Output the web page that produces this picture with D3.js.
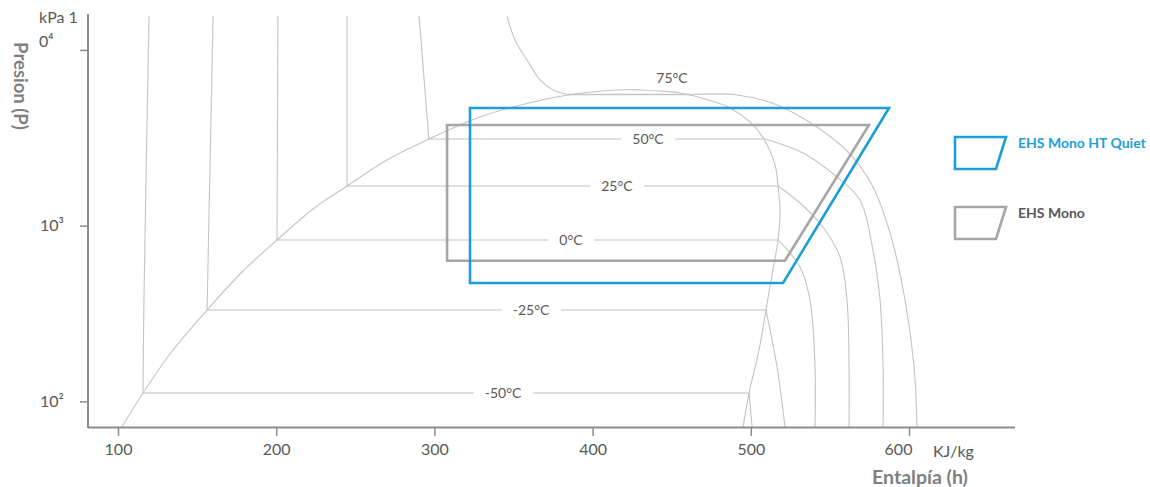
<!DOCTYPE html>
<html><head><meta charset="utf-8">
<script src="https://cdn.jsdelivr.net/npm/d3@7"></script>
<style>
body{margin:0;background:#fff}
svg{display:block}
text{font-family:Lato,"Open Sans",sans-serif}
</style>
</head><body>
<svg id="chart" width="1150" height="487"></svg>
<script>
// ---- data (enthalpy kJ/kg, pressure kPa) ----
const xTicks = [100, 200, 300, 400, 500, 600];
const yTicks = [100, 1000, 10000];
const yTickLabels = ["10²", "10³", ""];

const dome = [[102.5,71.5],[115.8,111.6],[133.8,191],[156.3,331],[178.4,545],[200.5,829],[223.3,1245],[244.8,1683],[270,2365],[296.5,3115],[316.2,3743],[328.8,4157],[349.7,4739],[384.5,5545],[415.4,5921],[430,5921],[442.6,5844],[455.3,5692],[471.1,5261],[486.9,4677],[499.5,3893],[508.3,3115],[515.3,2215],[517.2,1683],[518.5,1197],[517.2,829],[513.4,524],[509.6,331],[505.2,196],[498.9,111.6],[495.1,71.5]];

const isoNames    = ["75°C", "50°C", "25°C", "0°C", "-25°C", "-50°C"];
const isoPressure = [5581, 3115, 1683, 829, 331, 111.6];
const isoLiqH     = [384.5, 296.5, 244.8, 200.5, 156.3, 115.8];
const isoVapH     = [461.6, 509, 517.2, 517.2, 509.6, 498.9];
const isoLabelH   = [450.2, 435, 415.4, 386.3, 361.1, 343.4];
const isoLabelP   = [6928, 3115, 1683, 829, 331, 111.6];

const liq75  = [[345.9,15600],[350.9,11400],[358.5,8772],[366.8,6750],[375,5921],[384.5,5581]];
const liq50  = [[290.3,15600],[296.5,3115]];
const liq25  = [[244.8,15600],[244.8,1683]];
const liq0   = [[201.1,15600],[200.5,829]];
const liqM25 = [[160.1,15600],[156.3,331]];
const liqM50 = [[119.6,15600],[116.4,378],[115.8,111.6]];

const vap75  = [[461.6,5581],[491.3,5545],[516.6,4864],[541.8,3646],[561.4,2627],[576.6,1704],[588,909],[597.5,378],[603.2,157],[605.1,71.5]];
const vap50  = [[509,3115],[533,2593],[554.5,1893],[569,1401],[577.2,727],[581.7,378],[583.6,157],[583.6,71.5]];
const vap25  = [[517.2,1683],[531.1,1346],[545.6,983],[556.4,663],[560.8,378],[562.1,157],[562.1,71.5]];
const vap0   = [[517.2,829],[531.1,582],[537.4,378],[540.6,157],[540.6,71.5]];
const vapM25 = [[509.6,331],[516.6,157],[521.6,71.5]];
const vapM50 = [[498.9,111.6],[500.8,71.5]];

const seriesNames = ["EHS Mono HT Quiet", "EHS Mono"];
const hqCycle   = [[322.5,4677],[587.4,4677],[520.4,472],[322.5,472]];
const monoCycle = [[308,3743],[574.7,3743],[521.6,632],[308,632]];

// ---- drawing ----
const svg = d3.select("#chart");
const x = d3.scaleLinear().domain([100, 600]).range([118, 909]);
const y = d3.scaleLog().domain([71.5, 15600]).range([427, 16]);

const lineColor = "#c4c4c4", flatColor = "#d6d6d6", textColor = "#595959", axisColor = "#8c8c8c";
const blue = "#1a9fd9", gray = "#a6a6a6";

svg.append("defs").append("clipPath").attr("id","plot")
  .append("rect").attr("x", 88).attr("y", 16).attr("width", 930).attr("height", 411);

const g = svg.append("g").attr("clip-path","url(#plot)");
const curve = d3.line().x(d => x(d[0])).y(d => y(d[1])).curve(d3.curveCatmullRom.alpha(0.5));
const straight = d3.line().x(d => x(d[0])).y(d => y(d[1]));

const liqs = [liq75, liq50, liq25, liq0, liqM25, liqM50];
const vaps = [vap75, vap50, vap25, vap0, vapM25, vapM50];

// two-phase horizontal isotherms
isoNames.forEach((n, i) => {
  g.append("path").attr("d", straight([[isoLiqH[i], isoPressure[i]], [isoVapH[i], isoPressure[i]]]))
    .attr("fill","none").attr("stroke", i === 0 ? lineColor : flatColor).attr("stroke-width", 1.4);
});
liqs.forEach(a => g.append("path").attr("d", curve(a)).attr("fill","none").attr("stroke", lineColor).attr("stroke-width", 1.1));
vaps.forEach(a => g.append("path").attr("d", curve(a)).attr("fill","none").attr("stroke", lineColor).attr("stroke-width", 1.1));

g.append("path").attr("d", curve(dome)).attr("fill","none").attr("stroke", lineColor).attr("stroke-width", 1.1);

// isotherm labels
isoNames.forEach((n, i) => {
  const t = svg.append("text").attr("x", x(isoLabelH[i])).attr("y", y(isoLabelP[i])).attr("dy","0.35em")
    .attr("text-anchor","middle").attr("font-size", 14).attr("fill", textColor).text(n);
  if (i > 0) {
    const b = t.node().getBBox();
    svg.insert("rect", "text").attr("x", b.x - 11).attr("y", b.y).attr("width", b.width + 22).attr("height", b.height).attr("fill","#fff");
  }
});

// cycles
svg.append("path").attr("d", straight(monoCycle) + "Z").attr("fill","none").attr("stroke", gray).attr("stroke-width", 2.6);
svg.append("path").attr("d", straight(hqCycle) + "Z").attr("fill","none").attr("stroke", blue).attr("stroke-width", 2.6);

// axes
const xa = svg.append("g").attr("transform","translate(0,427)")
  .call(d3.axisBottom(x).tickValues(xTicks).tickSize(9).tickPadding(8));
xa.select(".domain").remove();
xa.selectAll(".tick line").attr("stroke", axisColor).attr("stroke-width", 1.5);
xa.selectAll(".tick text").attr("font-size", 16).attr("fill", textColor).attr("font-family","Lato")
  .attr("dx", d => d === 600 ? -11 : 0);
svg.append("line").attr("x1", 88).attr("x2", 1015).attr("y1", 427.5).attr("y2", 427.5).attr("stroke", axisColor).attr("stroke-width", 2);

const ya = svg.append("g").attr("transform","translate(88,0)")
  .call(d3.axisLeft(y).tickValues(yTicks).tickSize(8).tickFormat(""));
ya.select(".domain").remove();
ya.selectAll(".tick line").attr("stroke", axisColor).attr("stroke-width", 1.5);
svg.append("line").attr("x1", 88).attr("x2", 88).attr("y1", 14).attr("y2", 428).attr("stroke", axisColor).attr("stroke-width", 2);

yTicks.forEach((v, i) => {
  if (!yTickLabels[i]) return;
  svg.append("text").attr("x", 40).attr("y", y(v)).attr("dy","0.35em").attr("font-size", 16)
    .attr("fill", textColor).text(yTickLabels[i]);
});
svg.append("text").attr("x", 39).attr("y", 23).attr("font-size", 16).attr("fill", textColor).text("kPa 1");
svg.append("text").attr("x", 39).attr("y", 47).attr("font-size", 16).attr("fill", textColor).text("0⁴");

svg.append("text").attr("x", 933).attr("y", 457).attr("font-size", 16).attr("fill", textColor).text("KJ/kg");
svg.append("text").attr("x", 920).attr("y", 484).attr("text-anchor","middle").attr("font-size", 19.5)
  .attr("font-weight","bold").attr("fill", "#7f7f7f").text("Entalpía (h)");
svg.append("text").attr("transform","translate(14,86) rotate(90)").attr("text-anchor","middle")
  .attr("font-size", 18.5).attr("font-weight","bold").attr("fill", "#7f7f7f").text("Presion (P)");

// legend
const legend = [
  {name: seriesNames[0], color: blue, text: blue, y: 137},
  {name: seriesNames[1], color: gray, text: "#595959", y: 207}
];
legend.forEach(l => {
  svg.append("path").attr("d", `M955,${l.y}H1006L996,${l.y+32}H955Z`).attr("fill","none")
    .attr("stroke", l.color).attr("stroke-width", 2.6);
  svg.append("text").attr("x", 1018).attr("y", l.y + 6).attr("dy","0.35em").attr("font-size", 14)
    .attr("font-weight","bold").attr("fill", l.text).text(l.name);
});
</script>
</body></html>
